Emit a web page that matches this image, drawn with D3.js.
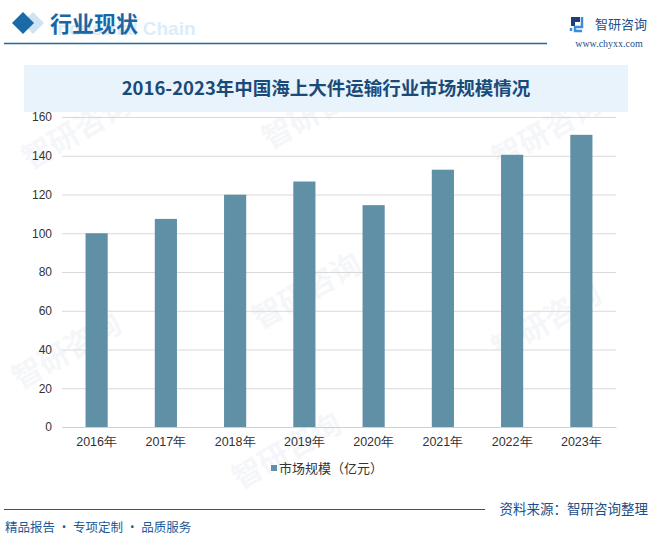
<!DOCTYPE html>
<html>
<head>
<meta charset="utf-8">
<script src="https://cdn.jsdelivr.net/npm/d3@7"></script>
<style>
  body { margin: 0; background: #fff; }
  svg { display: block; font-family: "Noto Sans CJK SC", "Liberation Sans", sans-serif; }
</style>
</head>
<body>
<svg id="chart" width="658" height="537"></svg>
<script>
// chart data
var years = ["2016年", "2017年", "2018年", "2019年", "2020年", "2021年", "2022年", "2023年"];
var marketSize = [100, 107.4, 119.9, 126.7, 114.5, 132.8, 140.5, 150.8];
var yTicks = [0, 20, 40, 60, 80, 100, 120, 140, 160];
var seriesName = "市场规模（亿元）";
var chartTitle = "2016-2023年中国海上大件运输行业市场规模情况";

var svg = d3.select("#chart");
var barColor = "#5f90a6";

// faint watermarks
var marks = [[30, 170], [270, 150], [500, 170], [20, 390], [260, 330], [500, 360], [240, 490]];
var wm = svg.append("g").attr("id", "watermarks");
marks.forEach(function (m) {
    wm.append("text")
      .attr("transform", "translate(" + m[0] + "," + m[1] + ") rotate(-30)")
      .attr("font-size", 30)
      .attr("font-weight", "bold")
      .attr("fill", "#eef1f5")
      .attr("fill-opacity", 0.6)
      .text("智研咨询");
});

// header
svg.append("path")
  .attr("d", "M33,12 L44,23 L33,34 L22,23 Z")
  .attr("fill", "#cfe3f2");
svg.append("path")
  .attr("d", "M23,12 L34,23 L23,34 L12,23 Z")
  .attr("fill", "#1a6aa8");
svg.append("text")
  .attr("x", 52).attr("y", 35)
  .attr("font-family", "Liberation Sans, sans-serif")
  .attr("font-weight", "bold")
  .attr("font-size", 19)
  .attr("fill", "#dcecf8")
  .text("Industrial Chain");
svg.append("text")
  .attr("x", 50).attr("y", 32)
  .attr("font-weight", "bold")
  .attr("font-size", 22)
  .attr("fill", "#1a67a6")
  .text("行业现状");
svg.append("line")
  .attr("x1", 4).attr("x2", 547).attr("y1", 43.5).attr("y2", 43.5)
  .attr("stroke", "#1a6aa8").attr("stroke-width", 1.5);

// logo top right
var logo = svg.append("g").attr("transform", "translate(571,17)");
logo.append("path").attr("d", "M0,0 H9 V5 H4 V9 H0 Z").attr("fill", "#1c3f7a");
logo.append("path").attr("d", "M11,0 V10 H4 V14 H11 M0,11 V14").attr("fill", "none")
  .attr("stroke", "#3a8fd8").attr("stroke-width", 2.5);
svg.append("text")
  .attr("x", 595).attr("y", 29)
  .attr("font-size", 13)
  .attr("fill", "#1c4f8c")
  .text("智研咨询");
svg.append("text")
  .attr("x", 609).attr("y", 47)
  .attr("text-anchor", "middle")
  .attr("font-family", "Liberation Serif, serif")
  .attr("font-size", 10)
  .attr("fill", "#1c4f8c")
  .text("www.chyxx.com");

// title band
svg.append("rect")
  .attr("x", 24).attr("y", 65).attr("width", 604).attr("height", 47)
  .attr("fill", "#e8f3fb");
svg.append("text")
  .attr("x", 326).attr("y", 95)
  .attr("text-anchor", "middle")
  .attr("font-weight", "bold")
  .attr("font-size", 18.5)
  .attr("fill", "#1a4a78")
  .text(chartTitle);

// plot
var margin = { left: 62, right: 42, top: 117, bottom: 110 };
var width = 658 - margin.left - margin.right;
var height = 537 - margin.top - margin.bottom;
var g = svg.append("g").attr("transform", "translate(" + margin.left + "," + margin.top + ")");

var x = d3.scaleBand().domain(years).range([0, width]).paddingInner(0.68).paddingOuter(0.34);
var y = d3.scaleLinear().domain([0, 160]).range([height, 0]);

var yAxis = d3.axisLeft(y).tickValues(yTicks).tickSize(-width).tickPadding(10);
var gy = g.append("g").attr("class", "axis").call(yAxis);
gy.select(".domain").remove();
gy.selectAll(".tick line").attr("stroke", "#d9d9d9");
gy.selectAll(".tick text")
  .attr("font-family", "Liberation Sans, sans-serif")
  .attr("font-size", 12)
  .attr("fill", "#333");

g.selectAll("rect.bar")
  .data(marketSize)
  .enter()
  .append("rect")
  .attr("class", "bar")
  .attr("x", function (d, i) { return x(years[i]); })
  .attr("y", function (d) { return y(d); })
  .attr("width", x.bandwidth())
  .attr("height", function (d) { return height - y(d); })
  .attr("fill", barColor);

var xAxis = d3.axisBottom(x).tickSize(0).tickPadding(10);
var gx = g.append("g").attr("class", "axis").attr("transform", "translate(0," + height + ")").call(xAxis);
gx.select(".domain").attr("stroke", "#d0d0d0");
gx.selectAll(".tick text")
  .attr("font-size", 12.5)
  .attr("fill", "#333");

// legend
svg.append("rect")
  .attr("x", 271).attr("y", 465).attr("width", 6).attr("height", 6)
  .attr("fill", barColor);
svg.append("text")
  .attr("x", 279).attr("y", 472.5)
  .attr("font-size", 13)
  .attr("fill", "#333")
  .text(seriesName);

// footer
svg.append("line")
  .attr("x1", 4).attr("x2", 485).attr("y1", 509.5).attr("y2", 509.5)
  .attr("stroke", "#1e5a8a").attr("stroke-width", 1.2);
svg.append("text")
  .attr("x", 5).attr("y", 532)
  .attr("font-size", 12.5)
  .attr("fill", "#1a5a9a")
  .text("精品报告 · 专项定制 · 品质服务");
svg.append("text")
  .attr("x", 648).attr("y", 514)
  .attr("text-anchor", "end")
  .attr("font-size", 13.5)
  .attr("fill", "#1a4f8a")
  .text("资料来源：智研咨询整理");
</script>
</body>
</html>
